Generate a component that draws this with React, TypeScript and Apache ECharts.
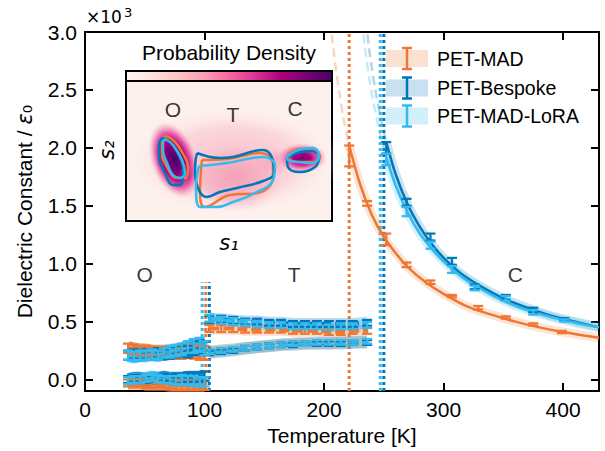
import React, { useEffect, useRef } from "react";
import * as echarts from "echarts";

const FONT = "'Liberation Sans', Arial, Helvetica, sans-serif";
const MATH = "'DejaVu Sans', sans-serif";
const COLORS = ["#EE7733", "#0077BB", "#33BBEE"];
const BAND = ["rgba(238,119,51,0.22)", "rgba(0,119,187,0.22)", "rgba(51,187,238,0.22)"];
const modelNames = ["PET-MAD", "PET-Bespoke", "PET-MAD-LoRA"];

// axis ticks
const xTicks = [0, 100, 200, 300, 400];
const yTicks = [0, 0.5, 1.0, 1.5, 2.0, 2.5, 3.0];

// orthorhombic phase (two components), values in 10^3
const oTemps = [36, 41, 46, 51, 56, 61, 66, 71, 76, 81, 86, 91, 96, 100];
const madOUpper = [0.27, 0.26, 0.25, 0.25, 0.24, 0.24, 0.24, 0.24, 0.23, 0.23, 0.24, 0.24, 0.23, 0.23];
const besOUpper = [0.21, 0.22, 0.21, 0.22, 0.22, 0.23, 0.22, 0.23, 0.24, 0.25, 0.24, 0.27, 0.28, 0.27];
const loraOUpper = [0.21, 0.2, 0.21, 0.21, 0.22, 0.21, 0.23, 0.24, 0.25, 0.26, 0.28, 0.29, 0.3, 0.27];
const oUpperErr = [0.04, 0.04, 0.04, 0.04, 0.04, 0.04, 0.04, 0.05, 0.05, 0.05, 0.05, 0.06, 0.06, 0.06];
const madOLower = [-0.03, -0.03, -0.03, -0.04, -0.04, -0.04, -0.04, -0.05, -0.05, -0.05, -0.05, -0.05, -0.05, -0.05];
const besOLower = [0.0, 0.01, 0.01, 0.0, 0.01, 0.01, 0.02, 0.01, 0.01, 0.01, 0.02, 0.02, 0.02, 0.03];
const loraOLower = [-0.01, 0.0, 0.0, 0.01, 0.02, 0.01, 0.0, 0.0, -0.01, 0.0, -0.01, -0.01, -0.02, -0.02];
const oLowerErr = [0.03, 0.03, 0.03, 0.03, 0.03, 0.03, 0.03, 0.03, 0.04, 0.04, 0.04, 0.04, 0.04, 0.04];

// tetragonal phase (two components)
const tTemps = [104, 114, 124, 134, 144, 154, 164, 174, 184, 194, 204, 214, 224, 236];
const madTUpper = [0.44, 0.44, 0.44, 0.43, 0.43, 0.43, 0.43, 0.42, 0.42, 0.42, 0.41, 0.41, 0.42, 0.42];
const besTUpper = [0.52, 0.52, 0.51, 0.5, 0.5, 0.49, 0.49, 0.48, 0.48, 0.48, 0.48, 0.48, 0.48, 0.49];
const loraTUpper = [0.53, 0.51, 0.5, 0.49, 0.48, 0.47, 0.47, 0.46, 0.46, 0.46, 0.45, 0.46, 0.46, 0.47];
const tUpperErr = [0.03, 0.03, 0.03, 0.025, 0.025, 0.025, 0.025, 0.025, 0.025, 0.025, 0.025, 0.025, 0.025, 0.025];
const madTLower = [0.24, 0.25, 0.26, 0.27, 0.28, 0.29, 0.3, 0.31, 0.31, 0.31, 0.31, 0.32, 0.32, 0.32];
const besTLower = [0.23, 0.24, 0.25, 0.27, 0.28, 0.29, 0.3, 0.3, 0.31, 0.31, 0.31, 0.31, 0.32, 0.32];
const loraTLower = [0.24, 0.25, 0.26, 0.27, 0.28, 0.29, 0.3, 0.31, 0.31, 0.32, 0.32, 0.32, 0.32, 0.33];
const tLowerErr = [0.02, 0.02, 0.02, 0.02, 0.02, 0.02, 0.02, 0.02, 0.02, 0.02, 0.02, 0.02, 0.02, 0.02];

// cubic phase points
const madCTemps = [221, 236, 252, 269, 289, 307, 329, 352, 375, 399];
const madC = [1.93, 1.52, 1.21, 0.99, 0.84, 0.72, 0.62, 0.535, 0.475, 0.41];
const madCErr = [0.09, 0.02, 0.05, 0.02, 0.015, 0.01, 0.015, 0.01, 0.01, 0.01];
const besCTemps = [252, 269, 289, 307, 326, 352, 375, 401];
const besC = [2.0, 1.53, 1.23, 1.02, 0.8, 0.71, 0.6, 0.52];
const besCErr = [0.05, 0.03, 0.03, 0.03, 0.02, 0.02, 0.02, 0.01];
const loraCTemps = [252, 269, 289, 307, 326, 352, 375, 401];
const loraC = [1.9, 1.45, 1.16, 0.95, 0.79, 0.7, 0.58, 0.51];
const loraCErr = [0.05, 0.04, 0.03, 0.03, 0.02, 0.02, 0.02, 0.01];

// Curie-Weiss fit curves
const madFitT = [221, 230, 240, 250, 260, 270, 285, 300, 320, 340, 360, 380, 400, 430];
const madFit = [2.02, 1.69, 1.42, 1.23, 1.09, 0.97, 0.84, 0.74, 0.63, 0.56, 0.5, 0.45, 0.41, 0.36];
const madExtT = [205, 208, 210, 213, 216, 221];
const madExt = [3.1, 2.84, 2.67, 2.46, 2.27, 2.02];
const besFitT = [252, 260, 270, 280, 290, 300, 315, 330, 350, 370, 390, 410, 430];
const besFit = [2.05, 1.77, 1.51, 1.32, 1.17, 1.05, 0.91, 0.81, 0.7, 0.62, 0.55, 0.5, 0.45];
const besExtT = [235, 238, 240, 243, 246, 249, 252];
const besExt = [3.1, 2.83, 2.69, 2.49, 2.33, 2.18, 2.05];
const loraFitT = [252, 260, 270, 280, 290, 300, 315, 330, 350, 370, 390, 410, 430];
const loraFit = [1.92, 1.67, 1.44, 1.26, 1.13, 1.02, 0.89, 0.79, 0.68, 0.6, 0.54, 0.49, 0.45];
const loraExtT = [232, 235, 238, 241, 245, 249, 252];
const loraExt = [3.1, 2.8, 2.59, 2.41, 2.21, 2.03, 1.92];

// transition temperatures
const otTrans = [101, 104, 98];
const tcTrans = [221, 250, 247];

// phase labels
const phaseLabels = ["O", "T", "C"];
const phaseT = [50, 175, 360];
const phaseY = [0.91, 0.91, 0.91];

// inset (s1, s2) contours per model: O, T, C basins
const madContO = [[39, 85], [47, 81], [56, 69], [62, 53], [59, 43], [51, 43], [41, 54], [36, 68], [36, 79]];
const besContO = [[36, 83], [44, 79], [51, 69], [57, 51], [54, 36], [47, 36], [39, 48], [33, 64], [33, 76]];
const loraContO = [[39, 82], [47, 76], [56, 61], [59, 48], [54, 43], [47, 46], [41, 58], [37, 71], [37, 78]];
const madContT = [[76, 61], [101, 62], [134, 68], [147, 58], [147, 44], [131, 28], [104, 26], [79, 14], [74, 28]];
const besContT = [[71, 68], [94, 63], [107, 64], [137, 71], [146, 63], [148, 48], [137, 40], [111, 33], [94, 29], [81, 24], [72, 33], [69, 54]];
const loraContT = [[73, 55], [101, 58], [137, 64], [149, 55], [147, 41], [127, 27], [107, 19], [91, 14], [74, 14], [70, 34]];
const madContC = [[162, 66], [174, 72], [187, 72], [194, 64], [187, 59], [174, 59], [164, 61]];
const besContC = [[161, 63], [171, 68], [184, 70], [193, 64], [189, 54], [174, 49], [162, 54]];
const loraContC = [[161, 64], [172, 71], [187, 73], [193, 64], [186, 58], [172, 59], [162, 61]];

// inset density basins: [s1, s2, width, height, rotation]
const densityBlobs = [
  [107, 60, 215, 112, 0],
  [110, 44, 100, 70, 0],
  [48, 61, 46, 80, 20],
  [62, 45, 18, 26, 0],
  [176, 63, 50, 30, 0],
  [148, 60, 40, 30, 0],
];
const insetLabelPos = [[47, 112], [107, 107], [169, 113]];

const RDPU = ["#fff7f3", "#fde0dd", "#fcc5c0", "#fa9fb5", "#f768a1", "#dd3497", "#ae017e", "#7a0177", "#49006a"];

function pts(xs: number[], ys: number[]) {
  return xs.map((x, i) => [x, ys[i]]);
}

function errSeries(color: string, xs: number[], ys: number[], es: number[], z = 5) {
  return {
    type: "custom",
    silent: true,
    z,
    data: xs.map((x, i) => [x, ys[i], ys[i] - es[i], ys[i] + es[i]]),
    renderItem: (_p: any, api: any) => {
      const x = api.value(0);
      const lo = api.coord([x, api.value(2)]);
      const hi = api.coord([x, api.value(3)]);
      const hw = 5;
      const style = { stroke: color, lineWidth: 2.2, fill: "none" };
      return {
        type: "group",
        children: [
          { type: "line", shape: { x1: lo[0], y1: lo[1], x2: hi[0], y2: hi[1] }, style },
          { type: "line", shape: { x1: lo[0] - hw, y1: lo[1], x2: lo[0] + hw, y2: lo[1] }, style },
          { type: "line", shape: { x1: hi[0] - hw, y1: hi[1], x2: hi[0] + hw, y2: hi[1] }, style },
        ],
      };
    },
  };
}

function lineSeries(data: number[][], color: string, width: number, type: any, opacity = 1, z = 3, smooth: any = false) {
  return {
    type: "line",
    silent: true,
    data,
    symbol: "none",
    smooth,
    z,
    lineStyle: { color, width, type, opacity, cap: "butt" },
  };
}

function segment(i: number, xs: number[], ys: number[], es: number[], bandW: number, bandOp: number, lineW: number) {
  const d = pts(xs, ys);
  return [
    lineSeries(d, COLORS[i], bandW, "solid", bandOp, 2),
    lineSeries(d, COLORS[i], lineW, [10, 4], 1, 3),
    errSeries(COLORS[i], xs, ys, es, 4),
  ];
}

function cubic(i: number, fT: number[], fY: number[], eT: number[], eY: number[], cT: number[], cY: number[], cE: number[]) {
  return [
    lineSeries(pts(eT, eY), COLORS[i], 2.5, [9, 5], 0.3, 2, 0.3),
    lineSeries(pts(fT, fY), COLORS[i], 9, "solid", 0.2, 2, 0.3),
    lineSeries(pts(fT, fY), COLORS[i], 2.5, "solid", 1, 3, 0.3),
    errSeries(COLORS[i], cT, cY, cE, 4),
  ];
}

function contour(i: number, c: number[][]) {
  return {
    type: "line",
    silent: true,
    xAxisIndex: 2,
    yAxisIndex: 2,
    data: c.concat([c[0]]),
    symbol: "none",
    smooth: 0.45,
    z: 6,
    lineStyle: { color: COLORS[i], width: 2.5 },
  };
}

function blobSeries() {
  const grads = [
    [[0, "rgba(247,175,192,0.8)"], [0.6, "rgba(249,200,208,0.65)"], [1, "rgba(253,240,236,0)"]],
    [[0, "rgba(245,155,182,0.9)"], [0.65, "rgba(247,180,196,0.8)"], [1, "rgba(251,215,220,0)"]],
    [[0, "#49006a"], [0.3, "#7a0177"], [0.5, "#ae017e"], [0.72, "rgba(221,52,151,0.75)"], [1, "rgba(250,159,181,0)"]],
    [[0, "rgba(197,27,138,0.8)"], [1, "rgba(247,104,161,0)"]],
    [[0, "#7a0177"], [0.35, "#ae017e"], [0.6, "rgba(221,52,151,0.8)"], [1, "rgba(250,159,181,0)"]],
    [[0, "rgba(240,120,170,0.5)"], [1, "rgba(247,160,185,0)"]],
  ];
  return densityBlobs.map((b, k) => ({
    type: "scatter",
    silent: true,
    xAxisIndex: 2,
    yAxisIndex: 2,
    z: 1,
    symbol: "circle",
    symbolSize: [b[2], b[3]],
    symbolRotate: b[4],
    data: [[b[0], b[1]]],
    itemStyle: {
      opacity: 1,
      color: new echarts.graphic.RadialGradient(
        0.5,
        0.5,
        0.5,
        grads[k].map((g) => ({ offset: g[0] as number, color: g[1] as string }))
      ),
    },
  }));
}

export default function App() {
  const ref = useRef<HTMLDivElement>(null);
  useEffect(() => {
    const chart = echarts.init(ref.current!, null, { renderer: "svg" });
    const axisLineStyle = { color: "#000", width: 2 };
    const series: any[] = [];

    // vertical dotted transition lines
    otTrans.forEach((t, i) =>
      series.push(lineSeries([[t, -0.1], [t, 0.84]], COLORS[i], 3, [3, 3], 1, 1))
    );
    tcTrans.forEach((t, i) =>
      series.push(lineSeries([[t, -0.1], [t, 3.0]], COLORS[i], 3, [3, 3], 1, 1))
    );

    const oUp = [madOUpper, besOUpper, loraOUpper];
    const oLo = [madOLower, besOLower, loraOLower];
    const tUp = [madTUpper, besTUpper, loraTUpper];
    const tLo = [madTLower, besTLower, loraTLower];
    for (let i = 0; i < 3; i++) {
      series.push(...segment(i, oTemps, oUp[i], oUpperErr, 14, 0.8, 3));
      series.push(...segment(i, oTemps, oLo[i], oLowerErr, 13, 0.8, 3));
      series.push(...segment(i, tTemps, tUp[i], tUpperErr, 12, 0.25, 4));
      series.push(...segment(i, tTemps, tLo[i], tLowerErr, 12, 0.25, 4));
    }
    series.push(...cubic(0, madFitT, madFit, madExtT, madExt, madCTemps, madC, madCErr));
    series.push(...cubic(1, besFitT, besFit, besExtT, besExt, besCTemps, besC, besCErr));
    series.push(...cubic(2, loraFitT, loraFit, loraExtT, loraExt, loraCTemps, loraC, loraCErr));

    // phase labels
    series.push({
      type: "scatter",
      silent: true,
      symbolSize: 1,
      itemStyle: { color: "rgba(0,0,0,0)" },
      data: phaseLabels.map((l, k) => [phaseT[k], phaseY[k], l]),
      label: {
        show: true,
        position: "inside",
        formatter: (p: any) => p.data[2],
        fontSize: 21,
        fontFamily: FONT,
        color: "#000",
      },
      z: 10,
    });

    // inset
    series.push(...blobSeries());
    const contours = [
      [madContO, madContT, madContC],
      [besContO, besContT, besContC],
      [loraContO, loraContT, loraContC],
    ];
    [0, 1, 2].forEach((i) => contours[i].forEach((c) => series.push(contour(i, c))));
    series.push({
      type: "scatter",
      silent: true,
      xAxisIndex: 2,
      yAxisIndex: 2,
      symbolSize: 1,
      itemStyle: { color: "rgba(0,0,0,0)" },
      data: phaseLabels.map((l, k) => [insetLabelPos[k][0], insetLabelPos[k][1], l]),
      label: {
        show: true,
        position: "inside",
        formatter: (p: any) => p.data[2],
        fontSize: 21,
        fontFamily: FONT,
        color: "#000",
      },
      z: 10,
    });

    const legendY = [58.5, 88, 116];
    const legendGraphics: any[] = [];
    modelNames.forEach((n, i) => {
      const cy = legendY[i];
      const st = { stroke: COLORS[i], lineWidth: 2.5 };
      legendGraphics.push(
        { type: "rect", shape: { x: 386, y: cy - 8.5, width: 42, height: 17 }, style: { fill: BAND[i] }, z: 20 },
        { type: "line", shape: { x1: 407, y1: cy - 10.5, x2: 407, y2: cy + 10.5 }, style: st, z: 21 },
        { type: "line", shape: { x1: 402, y1: cy - 10.5, x2: 412, y2: cy - 10.5 }, style: st, z: 21 },
        { type: "line", shape: { x1: 402, y1: cy + 10.5, x2: 412, y2: cy + 10.5 }, style: st, z: 21 },
        {
          type: "text",
          x: 437,
          y: cy,
          style: { text: n, fontSize: 19.5, fontFamily: FONT, fill: "#000", verticalAlign: "middle", align: "left" },
          z: 21,
        }
      );
    });

    chart.setOption({
      animation: false,
      backgroundColor: "#fff",
      grid: [
        { left: 85, top: 32, right: 6, bottom: 59, containLabel: false },
        {
          left: 126,
          top: 81,
          width: 206,
          height: 140,
          show: true,
          backgroundColor: "#fdf1ee",
          borderColor: "#000",
          borderWidth: 2,
          containLabel: false,
        },
      ],
      xAxis: [
        {
          type: "value",
          gridIndex: 0,
          min: 0,
          max: 430,
          position: "bottom",
          axisLine: { show: true, onZero: false, lineStyle: axisLineStyle },
          axisTick: { show: true, inside: true, length: 8, lineStyle: axisLineStyle, customValues: xTicks },
          axisLabel: { customValues: xTicks, fontSize: 21, fontFamily: FONT, color: "#000", margin: 8 },
          splitLine: { show: false },
          name: "Temperature [K]",
          nameLocation: "middle",
          nameGap: 32,
          nameTextStyle: { fontSize: 21, fontFamily: FONT, color: "#000" },
        },
        {
          type: "value",
          gridIndex: 0,
          min: 0,
          max: 430,
          position: "top",
          axisLine: { show: true, onZero: false, lineStyle: axisLineStyle },
          axisTick: { show: true, inside: true, length: 8, lineStyle: axisLineStyle, customValues: xTicks },
          axisLabel: { show: false },
          splitLine: { show: false },
        },
        { type: "value", gridIndex: 1, min: 0, max: 206, show: false, splitLine: { show: false } },
      ],
      yAxis: [
        {
          type: "value",
          gridIndex: 0,
          min: -0.1,
          max: 3.0,
          position: "left",
          axisLine: { show: true, onZero: false, lineStyle: axisLineStyle },
          axisTick: { show: true, inside: true, length: 8, lineStyle: axisLineStyle, customValues: yTicks },
          axisLabel: {
            customValues: yTicks,
            formatter: (v: number) => v.toFixed(1),
            fontSize: 21,
            fontFamily: FONT,
            color: "#000",
            margin: 8,
          },
          splitLine: { show: false },
          name: "Dielectric Constant / {e|ε}{s|₀}",
          nameLocation: "middle",
          nameGap: 50,
          nameTextStyle: {
            fontSize: 21,
            fontFamily: FONT,
            color: "#000",
            rich: {
              e: { fontSize: 21, fontFamily: MATH, fontStyle: "italic", color: "#000" },
              s: { fontSize: 21, fontFamily: MATH, color: "#000" },
            },
          },
        },
        {
          type: "value",
          gridIndex: 0,
          min: -0.1,
          max: 3.0,
          position: "right",
          axisLine: { show: true, onZero: false, lineStyle: axisLineStyle },
          axisTick: { show: true, inside: true, length: 8, lineStyle: axisLineStyle, customValues: yTicks },
          axisLabel: { show: false },
          splitLine: { show: false },
        },
        { type: "value", gridIndex: 1, min: 0, max: 140, show: false, splitLine: { show: false } },
      ],
      series,
      graphic: [
        {
          type: "text",
          x: 86,
          y: 25,
          style: { text: "×10", fontSize: 17, fontFamily: MATH, fill: "#000", verticalAlign: "bottom" },
          z: 20,
        },
        {
          type: "text",
          x: 124,
          y: 19,
          style: { text: "3", fontSize: 13, fontFamily: MATH, fill: "#000", verticalAlign: "bottom" },
          z: 20,
        },
        {
          type: "rect",
          shape: { x: 126, y: 71, width: 206, height: 10 },
          style: {
            fill: new echarts.graphic.LinearGradient(
              0,
              0,
              1,
              0,
              RDPU.map((c, k) => ({ offset: k / (RDPU.length - 1), color: c }))
            ),
            stroke: "#000",
            lineWidth: 2,
          },
          z: 20,
        },
        {
          type: "text",
          x: 229,
          y: 52,
          style: {
            text: "Probability Density",
            fontSize: 21,
            fontFamily: FONT,
            fill: "#000",
            align: "center",
            verticalAlign: "middle",
          },
          z: 20,
        },
        {
          type: "text",
          x: 107,
          y: 150,
          rotation: Math.PI / 2,
          style: {
            text: "s₂",
            fontSize: 21,
            fontStyle: "italic",
            fontFamily: MATH,
            fill: "#000",
            align: "center",
            verticalAlign: "middle",
          },
          z: 20,
        },
        {
          type: "text",
          x: 229,
          y: 243,
          style: {
            text: "s₁",
            fontSize: 21,
            fontStyle: "italic",
            fontFamily: MATH,
            fill: "#000",
            align: "center",
            verticalAlign: "middle",
          },
          z: 20,
        },
        ...legendGraphics,
      ],
    });
    return () => chart.dispose();
  }, []);
  return <div ref={ref} style={{ position: "absolute", left: 0, top: 0, width: 605, height: 451 }} />;
}
